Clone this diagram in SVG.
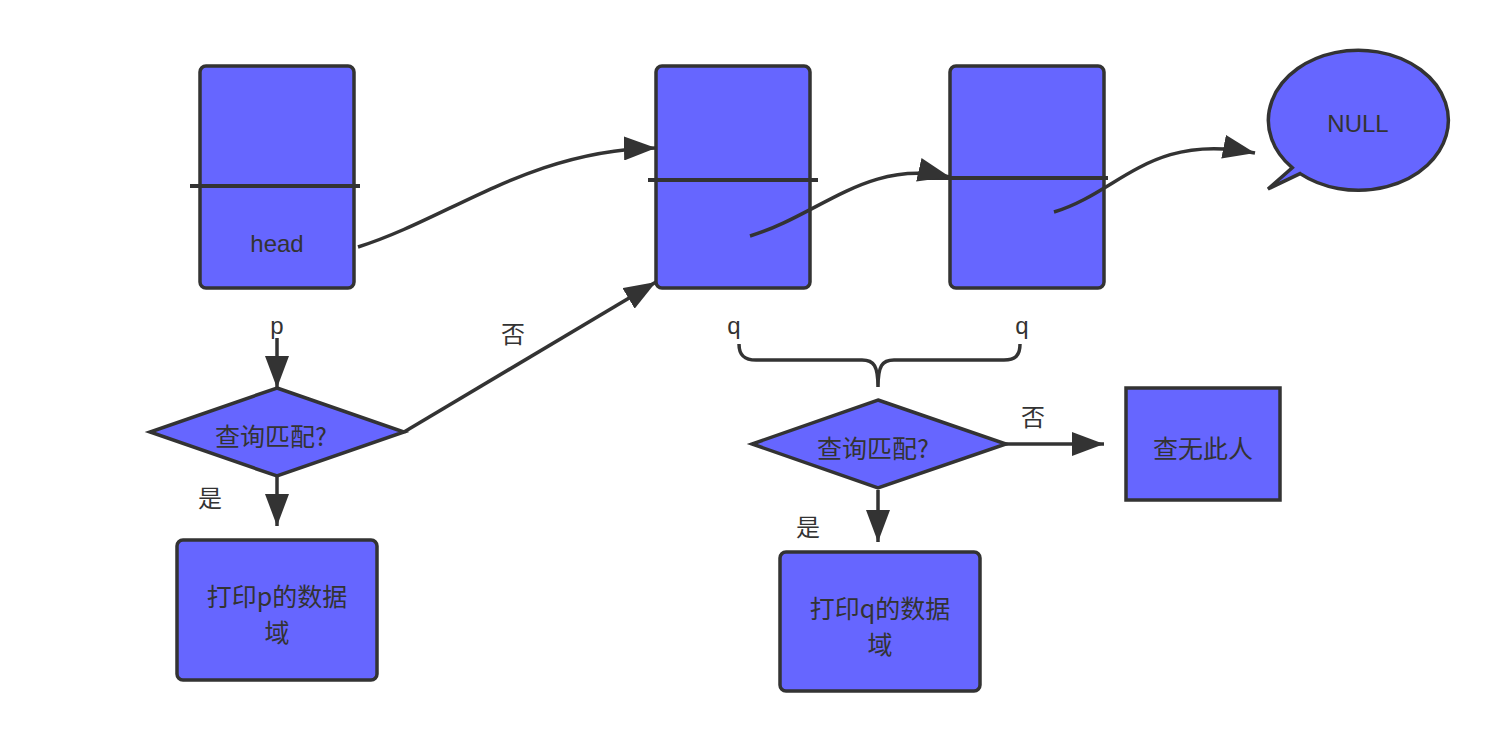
<svg xmlns="http://www.w3.org/2000/svg" width="1498" height="742" viewBox="0 0 1498 742">
<style>
.shape{fill:#6666ff;stroke:#333333;stroke-width:3.5}
.div{stroke:#333333;stroke-width:4}
.line{fill:none;stroke:#333333;stroke-width:3.5}
.t{font-family:"Liberation Sans","Noto Sans CJK SC",sans-serif;fill:#333333;text-anchor:middle;dominant-baseline:central}
.lat{font-size:24px}
.cjk{font-size:25px;font-family:"Noto Sans CJK SC","Liberation Sans",sans-serif}
.lbl{font-size:24px;font-family:"Noto Sans CJK SC","Liberation Sans",sans-serif}
</style>
<defs>
<marker id="arr" markerUnits="userSpaceOnUse" markerWidth="34" markerHeight="24" refX="32" refY="12" orient="auto">
<path d="M0,0 L32,12 L0,24 z" fill="#333333"/>
</marker>
</defs>
<rect width="1498" height="742" fill="#ffffff"/>
<g id="node-head">
<rect class="shape" x="200" y="66" width="154" height="222" rx="6"/>
<line class="div" x1="190" y1="186" x2="360" y2="186"/>
<text class="t lat" x="277" y="243">head</text>
</g>
<g id="node-2">
<rect class="shape" x="656" y="66" width="154" height="222" rx="6"/>
<line class="div" x1="648" y1="180" x2="818" y2="180"/>
</g>
<g id="node-3">
<rect class="shape" x="950" y="66" width="154" height="222" rx="6"/>
<line class="div" x1="918" y1="178" x2="1108" y2="178"/>
</g>
<g id="node-null">
<path class="shape" d="M1292.2,167.7 A90,70 0 1 1 1300.1,173.6 L1268,189 Z"/>
<text class="t lat" x="1358" y="123">NULL</text>
</g>
<g id="decision-p">
<polygon class="shape" points="277,388 404,432 277,476 150,432"/>
<text class="t cjk" x="271" y="435">查询匹配?</text>
</g>
<g id="print-p">
<rect class="shape" x="177" y="540" width="200" height="140" rx="6"/>
<text class="t cjk" x="277" y="595">打印p的数据</text>
<text class="t cjk" x="277" y="631">域</text>
</g>
<g id="decision-q">
<polygon class="shape" points="878,400 1006,444 878,488 752,444"/>
<text class="t cjk" x="873" y="447">查询匹配?</text>
</g>
<g id="not-found">
<rect class="shape" x="1126" y="388" width="154" height="112"/>
<text class="t cjk" x="1203" y="447">查无此人</text>
</g>
<g id="print-q">
<rect class="shape" x="780" y="552" width="200" height="139" rx="6"/>
<text class="t cjk" x="880" y="607">打印q的数据</text>
<text class="t cjk" x="880" y="643">域</text>
</g>
<g id="labels">
<text class="t lat" x="277" y="325">p</text>
<text class="t lat" x="734" y="325">q</text>
<text class="t lat" x="1022" y="325">q</text>
<text class="t lbl" x="513" y="332">否</text>
<text class="t lbl" x="210" y="496">是</text>
<text class="t lbl" x="1033" y="415">否</text>
<text class="t lbl" x="808" y="525">是</text>
</g>
<g id="connectors">
<path class="line" d="M358,247 C450,218 530,150 656,148" marker-end="url(#arr)"/>
<path class="line" d="M750,236 C820,215 868,158 950,177" marker-end="url(#arr)"/>
<path class="line" d="M1054,212 C1120,192 1150,132 1255,153" marker-end="url(#arr)"/>
<line class="line" x1="277" y1="338" x2="277" y2="388" marker-end="url(#arr)"/>
<line class="line" x1="404" y1="432" x2="656" y2="282" marker-end="url(#arr)"/>
<line class="line" x1="277" y1="476" x2="277" y2="526" marker-end="url(#arr)"/>
<line class="line" x1="1006" y1="444" x2="1104" y2="444" marker-end="url(#arr)"/>
<line class="line" x1="878" y1="490" x2="878" y2="542" marker-end="url(#arr)"/>
<path class="line" d="M739,344 C739,356 745,360 756,360 L862,360 C874,360 878,366 878,387 C878,366 882,360 894,360 L1004,360 C1015,360 1020,356 1020,344"/>
</g>
</svg>
